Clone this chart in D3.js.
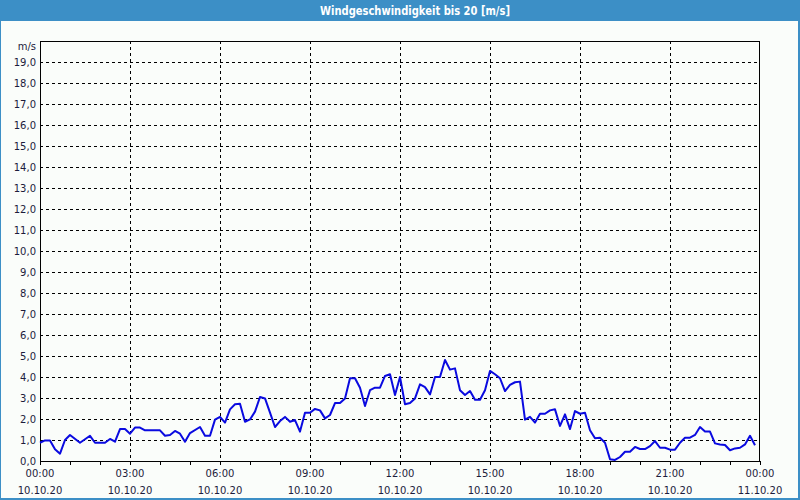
<!DOCTYPE html>
<html>
<head>
<meta charset="utf-8">
<script src="https://cdn.jsdelivr.net/npm/d3@7"></script>
<style>
html,body{margin:0;padding:0;background:#fafdfa;}
svg{display:block;}
</style>
</head>
<body>
<script>
const title = "Windgeschwindigkeit bis 20 [m/s]";
const unitLabel = "m/s";
const dayStart = "2020-10-10 00:00";
const dayEnd = "2020-10-11 00:00";
const times = ["00:00","00:10","00:20","00:30","00:40","00:50","01:00","01:20","01:40","01:50",
"02:10","02:20","02:30","02:40","02:50","03:00","03:10","03:20","03:30","04:00",
"04:10","04:20","04:30","04:40","04:50","05:00","05:20","05:30","05:40","05:50",
"06:00","06:10","06:20","06:30","06:40","06:50","07:00","07:10","07:20","07:30",
"07:40","07:50","08:00","08:10","08:20","08:30","08:40","08:50","09:00","09:10",
"09:20","09:30","09:40","09:50","10:00","10:10","10:20","10:30","10:40","10:50",
"11:00","11:10","11:20","11:30","11:40","11:50","12:00","12:10","12:20","12:30",
"12:40","12:50","13:00","13:10","13:20","13:30","13:40","13:50","14:00","14:10",
"14:20","14:30","14:40","14:50","15:00","15:10","15:20","15:30","15:40","15:50",
"16:00","16:10","16:20","16:30","16:40","16:50","17:00","17:10","17:20","17:30",
"17:40","17:50","18:00","18:10","18:20","18:30","18:40","18:50","19:00","19:10",
"19:20","19:30","19:40","19:50","20:00","20:10","20:20","20:30","20:40","20:50",
"21:00","21:10","21:20","21:30","21:40","21:50","22:00","22:10","22:20","22:30",
"22:40","22:50","23:00","23:10","23:20","23:30","23:40","23:50"];
const speeds = [0.87,0.98,0.98,0.56,0.35,1.0,1.24,0.87,1.2,0.87,
0.87,1.05,0.92,1.52,1.52,1.3,1.59,1.59,1.46,1.46,
1.2,1.24,1.43,1.3,0.92,1.33,1.62,1.2,1.2,1.97,
2.1,1.83,2.46,2.7,2.73,1.87,1.98,2.35,3.05,2.98,
2.3,1.62,1.9,2.1,1.87,1.95,1.4,2.3,2.3,2.48,
2.41,2.03,2.19,2.76,2.76,2.98,3.94,3.94,3.49,2.62,
3.37,3.49,3.49,4.05,4.13,3.14,4.0,2.7,2.76,2.98,
3.65,3.52,3.17,4.0,4.0,4.81,4.35,4.41,3.37,3.14,
3.33,2.92,2.92,3.37,4.29,4.13,3.94,3.33,3.62,3.75,
3.78,1.97,2.1,1.83,2.25,2.25,2.41,2.46,1.67,2.22,
1.52,2.38,2.25,2.3,1.46,1.08,1.11,0.87,0.08,0.05,
0.19,0.44,0.44,0.67,0.57,0.57,0.71,0.95,0.63,0.63,
0.54,0.54,0.87,1.11,1.11,1.24,1.62,1.4,1.4,0.84,
0.79,0.76,0.51,0.6,0.63,0.79,1.2,0.75];
const yTicks = [0,1,2,3,4,5,6,7,8,9,10,11,12,13,14,15,16,17,18,19];

const W = 800, H = 500;
const m = {left: 40, right: 760, top: 41, bottom: 461};
const parse = d3.timeParse("%Y-%m-%d %H:%M");
const data = times.map((t, i) => ({t: parse("2020-10-10 " + t), v: speeds[i]}));

const svg = d3.select("body").append("svg").attr("width", W).attr("height", H);
svg.append("rect").attr("width", W).attr("height", H).attr("fill", "#fafdfa");

// frame & title bar
svg.append("rect").attr("x", 0).attr("y", 0).attr("width", W).attr("height", 21).attr("fill", "#3c8fc6");
svg.append("rect").attr("x", 0).attr("y", 0).attr("width", 1).attr("height", H).attr("fill", "#3c8fc6");
svg.append("rect").attr("x", W - 2).attr("y", 0).attr("width", 2).attr("height", H).attr("fill", "#3c8fc6");
svg.append("rect").attr("x", 0).attr("y", H - 2).attr("width", W).attr("height", 2).attr("fill", "#3c8fc6");
svg.append("text").attr("x", 415).attr("y", 15).attr("text-anchor", "middle")
  .attr("font-family", "DejaVu Sans, sans-serif").attr("font-size", 11.5).attr("font-weight", "bold")
  .attr("fill", "#ffffff").attr("textLength", 190).attr("lengthAdjust", "spacingAndGlyphs").text(title);

const x = d3.scaleTime().domain([parse(dayStart), parse(dayEnd)]).range([m.left, m.right]);
const y = d3.scaleLinear().domain([0, 20]).range([m.bottom, m.top]);

const font = "DejaVu Sans, sans-serif";
const labelColor = "#1c1c3c";

// horizontal grid
svg.append("g").selectAll("line").data(yTicks.filter(d => d > 0)).join("line")
  .attr("x1", m.left).attr("x2", m.right)
  .attr("y1", d => Math.round(y(d)) + 0.5).attr("y2", d => Math.round(y(d)) + 0.5)
  .attr("stroke", "#000").attr("stroke-width", 1).attr("stroke-dasharray", "3,3");

// vertical grid every 3h
const majors = x.ticks(d3.timeHour.every(3));
svg.append("g").selectAll("line").data(majors.filter((d, i) => i > 0 && i < majors.length - 1)).join("line")
  .attr("x1", d => Math.round(x(d)) + 0.5).attr("x2", d => Math.round(x(d)) + 0.5)
  .attr("y1", m.top).attr("y2", m.bottom)
  .attr("stroke", "#000").attr("stroke-width", 1).attr("stroke-dasharray", "3,3");

// plot frame
svg.append("rect").attr("x", m.left + 0.5).attr("y", m.top + 0.5)
  .attr("width", m.right - m.left - 1).attr("height", m.bottom - m.top)
  .attr("fill", "none").attr("stroke", "#000").attr("stroke-width", 1);

// hourly ticks
svg.append("g").selectAll("line").data(x.ticks(d3.timeHour.every(1))).join("line")
  .attr("x1", d => Math.round(x(d)) + 0.5).attr("x2", d => Math.round(x(d)) + 0.5)
  .attr("y1", m.bottom).attr("y2", m.bottom + 4)
  .attr("stroke", "#000").attr("stroke-width", 1);

// y labels
svg.append("g").selectAll("text").data(yTicks).join("text")
  .attr("x", 36).attr("y", d => y(d) + 4).attr("text-anchor", "end")
  .attr("font-family", font).attr("font-size", 10).attr("fill", labelColor)
  .text(d => d3.format(".1f")(d).replace(".", ","));
svg.append("text").attr("x", 36).attr("y", 50).attr("text-anchor", "end")
  .attr("font-family", font).attr("font-size", 10).attr("fill", labelColor).text(unitLabel);

// x labels
const fTime = d3.timeFormat("%H:%M"), fDate = d3.timeFormat("%d.%m.%y");
const xl = svg.append("g").selectAll("g").data(majors).join("g");
xl.append("text").attr("x", d => x(d)).attr("y", 477).attr("text-anchor", "middle")
  .attr("font-family", font).attr("font-size", 10).attr("fill", labelColor).text(d => fTime(d));
xl.append("text").attr("x", d => x(d)).attr("y", 494).attr("text-anchor", "middle")
  .attr("font-family", font).attr("font-size", 10).attr("fill", labelColor).text(d => fDate(d));

// line
svg.append("path").datum(data)
  .attr("d", d3.line().x(d => x(d.t)).y(d => y(d.v)))
  .attr("fill", "none").attr("stroke", "#0a0ae0").attr("stroke-width", 2).attr("stroke-linejoin", "round");
</script>
</body>
</html>
